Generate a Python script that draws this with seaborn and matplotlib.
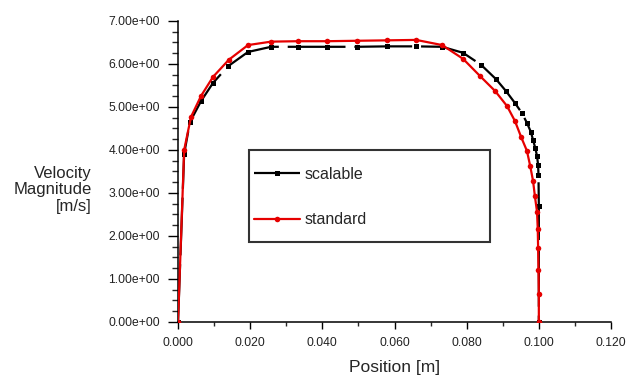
import numpy as np
import matplotlib.pyplot as plt
import seaborn as sns
from matplotlib.ticker import MultipleLocator, FormatStrFormatter
from matplotlib.patches import Rectangle

# Velocity profiles across the channel
position_scalable = [0.0, 0.0017, 0.0033, 0.0064, 0.0097, 0.0139, 0.0194, 0.0258,
                     0.0333, 0.0413, 0.0496, 0.0579, 0.0660, 0.0732, 0.0790, 0.0840,
                     0.0881, 0.0909, 0.0934, 0.0953, 0.0967, 0.0978, 0.0984, 0.0990,
                     0.0995, 0.0998, 0.0999, 0.1000, 0.1000]
velocity_scalable = [0.0, 3.91, 4.65, 5.14, 5.56, 5.95, 6.28, 6.40,
                     6.40, 6.40, 6.40, 6.41, 6.41, 6.40, 6.26, 5.98,
                     5.65, 5.37, 5.09, 4.86, 4.63, 4.42, 4.23, 4.05,
                     3.86, 3.65, 3.42, 2.70, 0.0]

position_standard = [0.0, 0.0017, 0.0036, 0.0064, 0.0097, 0.0141, 0.0194, 0.0258,
                     0.0333, 0.0413, 0.0496, 0.0579, 0.0660, 0.0732, 0.0790, 0.0837,
                     0.0879, 0.0912, 0.0934, 0.0951, 0.0967, 0.0976, 0.0984, 0.0989,
                     0.0995, 0.0997, 0.0998, 0.0999, 0.1000, 0.1000]
velocity_standard = [0.0, 4.00, 4.77, 5.26, 5.70, 6.10, 6.44, 6.52,
                     6.53, 6.53, 6.54, 6.55, 6.56, 6.44, 6.12, 5.72,
                     5.37, 5.02, 4.67, 4.30, 3.98, 3.63, 3.28, 2.93,
                     2.56, 2.16, 1.72, 1.21, 0.65, 0.0]

sns.set_style("ticks")
plt.rcParams['font.family'] = ['Liberation Sans', 'DejaVu Sans']

fig = plt.figure(figsize=(6.36, 3.91), dpi=100)
ax = fig.add_axes([0.2799, 0.1765, 0.6808, 0.7698])

sns.lineplot(x=position_scalable, y=velocity_scalable, ax=ax, estimator=None, sort=False,
             color='black', lw=1.6, marker='s', markersize=3.6, markeredgewidth=0,
             label='scalable', zorder=2)
ax.lines[-1].set_dashes([26, 4])
sns.lineplot(x=position_standard, y=velocity_standard, ax=ax, estimator=None, sort=False,
             color='#e60000', lw=1.6, marker='o', markersize=4, markeredgewidth=0,
             label='standard', zorder=3)

ax.set_xlim(0, 0.12)
ax.set_ylim(0, 7)
ax.xaxis.set_major_locator(MultipleLocator(0.02))
ax.xaxis.set_minor_locator(MultipleLocator(0.01))
ax.yaxis.set_major_locator(MultipleLocator(1))
ax.yaxis.set_minor_locator(MultipleLocator(0.25))
ax.xaxis.set_major_formatter(FormatStrFormatter('%.3f'))
ax.yaxis.set_major_formatter(FormatStrFormatter('%.2e'))
ax.tick_params(axis='both', which='major', labelsize=8.7, colors='black', width=1, length=5,
               labelcolor='#222222')
ax.tick_params(axis='y', which='major', length=7, pad=6)
ax.tick_params(axis='y', which='minor', length=4, width=1)
ax.tick_params(axis='x', which='minor', length=3, width=1)
ax.tick_params(axis='x', which='major', pad=6)
sns.despine(ax=ax)
for s in ['left', 'bottom']:
    ax.spines[s].set_linewidth(1.1)
    ax.spines[s].set_color('black')

ax.set_xlabel("Position [m]", fontsize=12.5, labelpad=8)
ax.set_ylabel("Velocity\nMagnitude\n[m/s]", fontsize=12, rotation=0, ha='right',
              va='center', multialignment='right', linespacing=1.15)
ax.yaxis.set_label_coords(-0.199, 0.439)

# Legend inside a fixed box
leg = ax.legend(loc='upper left', bbox_to_anchor=(254 / 636, 1 - 167 / 391),
                bbox_transform=fig.transFigure, frameon=False, fontsize=11.5,
                handlelength=2.85, handletextpad=0.3, labelspacing=1.9,
                borderpad=0, borderaxespad=0, numpoints=1)
fig.patches.append(Rectangle((249 / 636, 1 - 242 / 391), 241 / 636, 92 / 391,
                             transform=fig.transFigure, fill=False,
                             edgecolor='#333333', lw=1.5, zorder=5))

fig.savefig("out.png", dpi=100)
